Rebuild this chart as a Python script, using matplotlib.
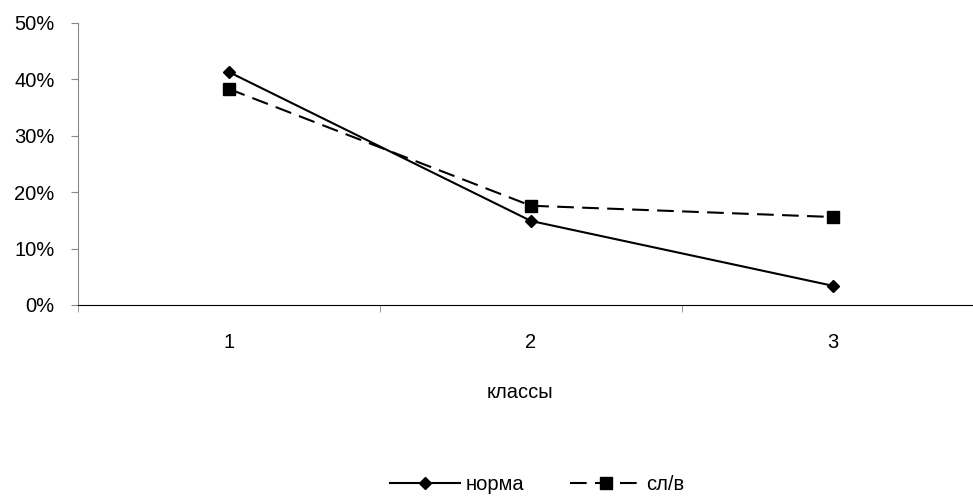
import numpy as np
import matplotlib.pyplot as plt
from matplotlib.ticker import PercentFormatter

plt.rcParams['font.family'] = ['Liberation Sans', 'DejaVu Sans']

classes = ['1', '2', '3']
norma = [41.3, 14.9, 3.4]
slv = [38.3, 17.6, 15.6]

fs = 14.5

fig = plt.figure(figsize=(9.73, 4.97), dpi=100)
# axes runs past the right edge like the original
ax = fig.add_axes([78 / 973, 1 - 305 / 497, (984 - 78) / 973, (305 - 23) / 497])

x = np.arange(1, len(classes) + 1)
ax.plot(x, norma, color='black', lw=1.5, marker='D', markersize=6.5, label='норма')
ax.plot(x, slv, color='black', lw=1.5, linestyle=(0, (8, 4)), marker='s', markersize=8.5, label='сл/в')

ax.set_xlim(0.5, 3.5)
ax.set_ylim(0, 50)
ax.yaxis.set_major_formatter(PercentFormatter(decimals=0))
ax.set_yticks(np.arange(0, 51, 10))

# category labels centered, ticks between categories
ax.set_xticks(x)
ax.set_xticklabels(classes)
ax.tick_params(axis='x', which='major', length=0, pad=20, labelsize=fs)
ax.set_xticks(np.arange(0.5, 3.6, 1), minor=True)
ax.tick_params(axis='x', which='minor', length=5, color='#888888', direction='out')
ax.tick_params(axis='y', length=5, color='#888888', labelsize=fs, pad=12)

ax.spines['top'].set_visible(False)
ax.spines['right'].set_visible(False)
ax.spines['left'].set_color('#888888')
ax.spines['bottom'].set_color('black')

ax.set_xlabel('классы', fontsize=fs)
ax.xaxis.set_label_coords((520 - 78) / (984 - 78), -(392 - 305) / (305 - 23))
ax.xaxis.label.set_verticalalignment('center')

fig.legend(loc='center', bbox_to_anchor=(537 / 973, 1 - 485 / 497), ncol=2, frameon=False,
           fontsize=fs, handlelength=3.5, handletextpad=0.25, columnspacing=2.3)

fig.savefig('out.png', dpi=100)
